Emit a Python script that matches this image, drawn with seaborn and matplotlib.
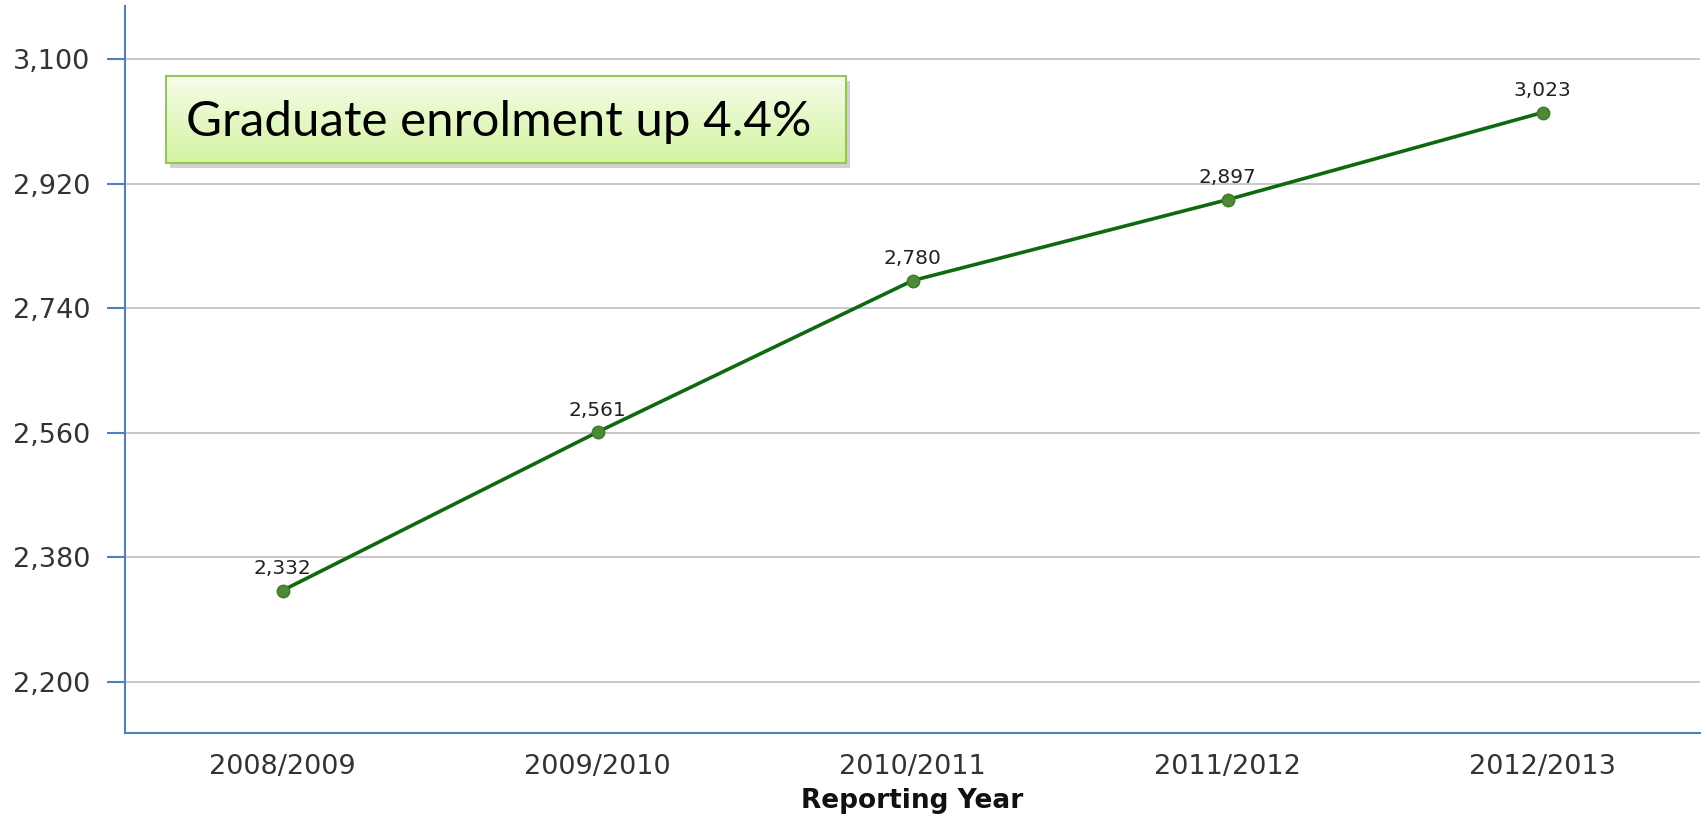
import numpy as np
import pandas as pd
import matplotlib
matplotlib.use("Agg")
import matplotlib.pyplot as plt
import seaborn as sns

# data
years = ["2008/2009", "2009/2010", "2010/2011", "2011/2012", "2012/2013"]
enrolment = [2332, 2561, 2780, 2897, 3023]
y_ticks = [2200, 2380, 2560, 2740, 2920, 3100]
callout = "Graduate enrolment up 4.4%"

df = pd.DataFrame({"year": years, "enrolment": enrolment})

sns.set_theme(style="white")
plt.rcParams["font.family"] = ["DejaVu Sans"]

axis_blue = "#4f81bd"
line_green = "#0f6a0f"
dot_green = "#4e8a35"

fig = plt.figure(figsize=(17.08, 8.17), dpi=100)
ax = fig.add_axes([125 / 1708, 1 - 733 / 817, 1575 / 1708, 727 / 817])

sns.lineplot(data=df, x="year", y="enrolment", ax=ax, color=line_green,
             linewidth=2.6, marker="o", markersize=9,
             markerfacecolor=dot_green, markeredgecolor="#3f7a2a",
             markeredgewidth=1, sort=False)

for i, v in enumerate(enrolment):
    ax.annotate(f"{v:,}", (i, v), xytext=(0, 9), textcoords="offset points",
                ha="center", va="bottom", fontsize=14.5, color="#222222")

ax.set_xlim(-0.5, len(years) - 0.5)
ax.set_ylim(2126, 3177)
ax.set_yticks(y_ticks)
ax.set_yticklabels([f"{t:,}" for t in y_ticks])
ax.yaxis.grid(True, color="#c4c4c4", linewidth=1.3)
ax.xaxis.grid(False)
ax.set_axisbelow(True)

for s in ["top", "right"]:
    ax.spines[s].set_visible(False)
for s in ["left", "bottom"]:
    ax.spines[s].set_color(axis_blue)
    ax.spines[s].set_linewidth(1.5)

ax.tick_params(axis="y", which="both", left=True, length=13, width=1.5,
               color=axis_blue, labelsize=19.5, labelcolor="#333333", pad=12)
ax.tick_params(axis="x", bottom=False, labelsize=19.5, labelcolor="#333333", pad=9)
ax.set_xlabel("Reporting Year", fontsize=19, fontweight="bold", labelpad=6,
              color="#111111")
ax.set_ylabel("")

# callout box with gradient and drop shadow
bx, by, bw, bh = 166 / 1708, 1 - 163 / 817, 680 / 1708, 87 / 817
shadow = plt.Rectangle((bx + 4 / 1708, by - 5 / 817), bw, bh,
                       transform=fig.transFigure, facecolor="#9a9a9a",
                       alpha=0.45, edgecolor="none", zorder=5)
fig.patches.append(shadow)
box = fig.add_axes([bx, by, bw, bh], zorder=6)
grad = np.linspace(0, 1, 256).reshape(-1, 1)
cmap = matplotlib.colors.LinearSegmentedColormap.from_list(
    "callout", ["#f6fdea", "#d3f3a0"])
box.imshow(grad, aspect="auto", cmap=cmap, extent=[0, 1, 0, 1], origin="upper")
box.set_xticks([])
box.set_yticks([])
for s in box.spines.values():
    s.set_color("#97c35a")
    s.set_linewidth(1.5)
box.text(0.03, 0.47, callout, transform=box.transAxes, ha="left", va="center",
         fontsize=35.5, family=["Lato", "DejaVu Sans"], color="#000000")

fig.savefig("out.png", dpi=100)
